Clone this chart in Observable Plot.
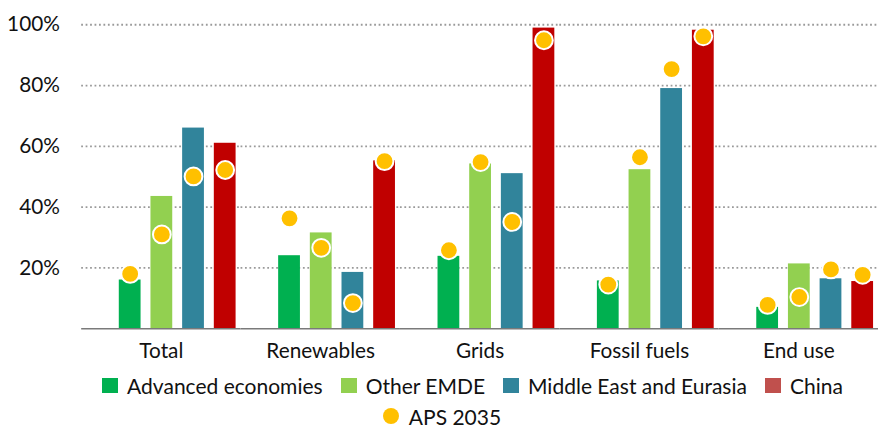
<!DOCTYPE html>
<html>
<head>
<meta charset="utf-8">
<script src="https://cdn.jsdelivr.net/npm/d3@7"></script>
<script src="https://cdn.jsdelivr.net/npm/@observablehq/plot@0.6"></script>
<style>
  html, body { margin: 0; padding: 0; background: #fff; overflow: hidden; width: 879px; height: 431px; }
  #chart svg { display: block; }
  .legend { font-family: Lato, "Open Sans", sans-serif; font-size: 21px; line-height: 1; color: #111; width: 879px; margin-top: 2px; }
  .row { display: flex; align-items: center; justify-content: center; box-sizing: border-box; }
  .row1 { height: 34px; }
  .row2 { height: 28px; }
  .item { display: flex; align-items: center; margin: 0 9px; white-space: nowrap; }
  .sw { width: 16px; height: 15px; margin-right: 9px; }
  .dotsw { width: 16px; height: 16px; border-radius: 50%; margin-right: 10px; }
</style>
</head>
<body>
<div id="chart"></div>
<div class="legend" id="legend"></div>
<script>
const categories = ["Total", "Renewables", "Grids", "Fossil fuels", "End use"];
const regions = ["Advanced economies", "Other EMDE", "Middle East and Eurasia", "China"];

// Share (%) by region, per category
const advanced  = [16.0, 24.0, 23.8, 15.7, 7.0];
const otherEmde = [43.5, 31.5, 54.2, 52.3, 21.3];
const meEurasia = [66.0, 18.5, 51.0, 79.0, 16.4];
const china     = [61.0, 55.2, 98.9, 98.2, 15.5];

// APS 2035 markers, per category
const apsAdvanced  = [18.0, 36.3, 25.8, 14.5, 7.8];
const apsOtherEmde = [31.0, 26.6, 54.8, 56.4, 10.4];
const apsMeEurasia = [50.1, 8.4, 35.1, 85.4, 19.5];
const apsChina     = [52.2, 55.1, 94.9, 96.2, 17.7];

const yTicks = [20, 40, 60, 80, 100];
const apsLabel = "APS 2035";

const barColors = ["#00B050", "#92D050", "#31849B", "#C00000"];
const legendColors = ["#00B050", "#92D050", "#31849B", "#C0504D"];
const apsColor = "#FFC000";

const series = [advanced, otherEmde, meEurasia, china];
const apsSeries = [apsAdvanced, apsOtherEmde, apsMeEurasia, apsChina];
const table = [];
categories.forEach((c, i) => {
  regions.forEach((r, j) => {
    table.push({category: c, region: r, value: series[j][i], aps: apsSeries[j][i]});
  });
});

const font = "Lato, 'Open Sans', sans-serif";

const chart = Plot.plot({
  width: 888,
  height: 370,
  marginLeft: 80,
  marginRight: 0,
  marginTop: 24.5,
  marginBottom: 38.5,
  style: {fontFamily: font, fontSize: "21px", color: "#111", background: "white", overflow: "visible"},
  fx: {domain: categories, padding: 0, label: null, axis: "bottom", tickSize: 0, tickPadding: 15},
  x: {domain: regions, axis: null, paddingInner: 0.32, paddingOuter: 0.66, align: 0.886},
  y: {domain: [0, 100], ticks: yTicks, tickFormat: d => d + "%", tickSize: 0, tickPadding: 22, label: null},
  color: {domain: regions, range: barColors},
  marks: [
    Plot.ruleY(yTicks, {stroke: "#9a9a9a", strokeWidth: 1.8, strokeDasharray: "1.8,2.7"}),
    Plot.barY(table, {fx: "category", x: "region", y: "value", fill: "region"}),
    Plot.ruleY([0], {stroke: "#7a7a7a", strokeWidth: 1.5}),
    Plot.dot(table, {fx: "category", x: "region", y: "aps", r: 9, fill: apsColor, stroke: "white", strokeWidth: 2})
  ]
});
document.getElementById("chart").appendChild(chart);

// Legend
const legend = document.getElementById("legend");
const row1 = document.createElement("div");
row1.className = "row row1";
row1.style.paddingLeft = "66px";
regions.forEach((r, j) => {
  const it = document.createElement("div");
  it.className = "item";
  const sw = document.createElement("span");
  sw.className = "sw";
  sw.style.background = legendColors[j];
  const t = document.createElement("span");
  t.textContent = r;
  it.appendChild(sw); it.appendChild(t);
  row1.appendChild(it);
});
legend.appendChild(row1);
const row2 = document.createElement("div");
row2.className = "row row2";
row2.style.paddingLeft = "5px";
const it2 = document.createElement("div");
it2.className = "item";
const ds = document.createElement("span");
ds.className = "dotsw";
ds.style.background = apsColor;
const t2 = document.createElement("span");
t2.textContent = apsLabel;
it2.appendChild(ds); it2.appendChild(t2);
row2.appendChild(it2);
legend.appendChild(row2);
</script>
</body>
</html>
